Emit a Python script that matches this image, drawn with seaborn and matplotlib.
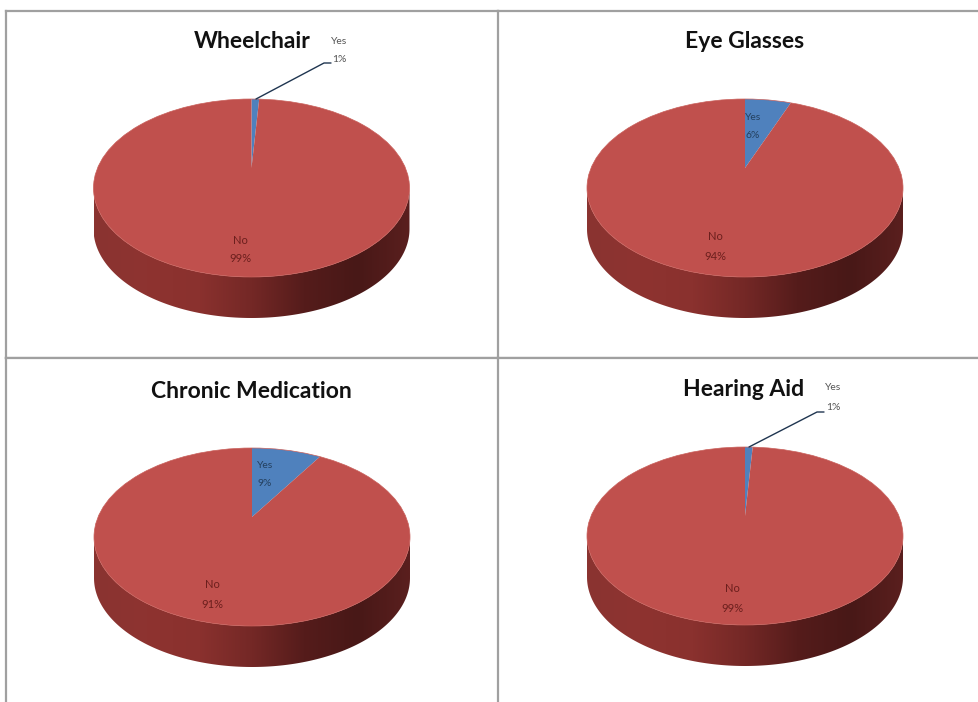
import numpy as np
import matplotlib
matplotlib.use("Agg")
import matplotlib.pyplot as plt
from matplotlib.colors import LinearSegmentedColormap
from matplotlib.patches import Ellipse, Polygon
import seaborn as sns

titles = ["Wheelchair", "Eye Glasses", "Chronic Medication", "Hearing Aid"]
categories = ["Yes", "No"]
yes_values = [1, 6, 9, 1]
no_values = [99, 94, 91, 99]

W, H = 979, 702
sns.set_theme(style="white")
plt.rcParams["font.family"] = ["Lato", "DejaVu Sans"]
colors = sns.color_palette(["#4f81bd", "#c0504d"])
side_cmap = LinearSegmentedColormap.from_list(
    "side", ["#8a3431", "#8e3330", "#8a312e", "#74282600"[:7], "#551c1b", "#481817", "#5a1f1e"])

panels = [(6, 11, 498, 358), (498, 11, 979, 358), (6, 358, 498, 702), (498, 358, 979, 702)]
centers = [(251.5, 188), (745, 188), (252, 537), (745, 536)]
title_pos = [(252, 41), (745, 42), (251, 391), (744, 390)]
yes_pos = [(339, 41, 60), (753, 117, 136), (265, 466, 484), (833, 388, 407)]
no_pos = [(240, 240, 259), (715, 237, 257), (212, 584, 604), (732, 589, 608)]
leaders = [[(256, 99), (324, 63), (331, 63)], None, None, [(749, 447), (817, 412), (824, 412)]]
RX, RY, DEPTH, APEX = 158, 89, 41, 20

fig = plt.figure(figsize=(W / 100, H / 100), dpi=100, facecolor="white")

for i, title in enumerate(titles):
    x0, y0, x1, y1 = panels[i]
    cx, cy = centers[i]
    ax = fig.add_axes([x0 / W, 1 - y1 / H, (x1 - x0) / W, (y1 - y0) / H])

    def px(x, y):
        return (x - cx) / RX, (cy - y) / RY

    d = DEPTH / RY
    # side wall of the disc
    t = np.linspace(np.pi, 2 * np.pi, 200)
    ex, ey = np.cos(t), np.sin(t)
    wall = np.r_[np.c_[ex, ey - d], np.c_[ex[::-1], ey[::-1]]]
    clip_wall = Polygon(wall, closed=True, transform=ax.transData, fc="none", ec="none")
    ax.add_patch(clip_wall)
    im = ax.imshow(np.linspace(0, 1, 256)[None, :], cmap=side_cmap, aspect="auto",
                   extent=(-1, 1, -1 - d, 0), zorder=1)
    im.set_clip_path(clip_wall)

    # top face: the pie apex sits behind the ellipse centre, as in the 3-D view
    wedges, _ = ax.pie([yes_values[i], no_values[i]], colors=colors, startangle=90,
                       counterclock=False, radius=1.5, center=(0, APEX / RY), frame=True,
                       wedgeprops={"linewidth": 0, "zorder": 2})
    face = Ellipse((0, 0), 2, 2, fc="none", ec="#c9605b", lw=0.5, zorder=3)
    ax.add_patch(face)
    for w in wedges:
        w.set_clip_on(True)
        w.set_clip_path(face)

    ax.set_aspect("auto")
    xa, ya = px(x0, y0)
    xb, yb = px(x1, y1)
    ax.set_xlim(xa, xb)
    ax.set_ylim(yb, ya)
    ax.set_xticks([])
    ax.set_yticks([])
    ax.set_facecolor("white")
    for name, s in ax.spines.items():
        s.set_color("#a0a0a0")
        s.set_linewidth(1.6)
    ax.spines["bottom"].set_visible(y1 < H)
    ax.spines["right"].set_visible(False)
    ax.spines["left"].set_visible(True)

    ax.text(*px(*title_pos[i]), title, ha="center", va="center",
            fontsize=16.5, fontweight="bold", color="#111111", zorder=6)

    outside = leaders[i] is not None
    yc = "#555555" if outside else "#24405f"
    yx, y_a, y_b = yes_pos[i]
    ax.text(*px(yx, y_a), categories[0], ha="center", va="center", fontsize=7.5, color=yc, zorder=6)
    ax.text(*px(yx, y_b), f"{yes_values[i]}%", ha="center", va="center", fontsize=7.5, color=yc, zorder=6)
    nx, n_a, n_b = no_pos[i]
    ax.text(*px(nx, n_a), categories[1], ha="center", va="center", fontsize=8, color="#6b1f1d", zorder=6)
    ax.text(*px(nx, n_b), f"{no_values[i]}%", ha="center", va="center", fontsize=8, color="#6b1f1d", zorder=6)

    if outside:
        pts = np.array([px(*p) for p in leaders[i]])
        ax.plot(pts[:, 0], pts[:, 1], color="#1f3550", lw=1.0, zorder=5)

fig.savefig("out.png", dpi=100, facecolor="white")
